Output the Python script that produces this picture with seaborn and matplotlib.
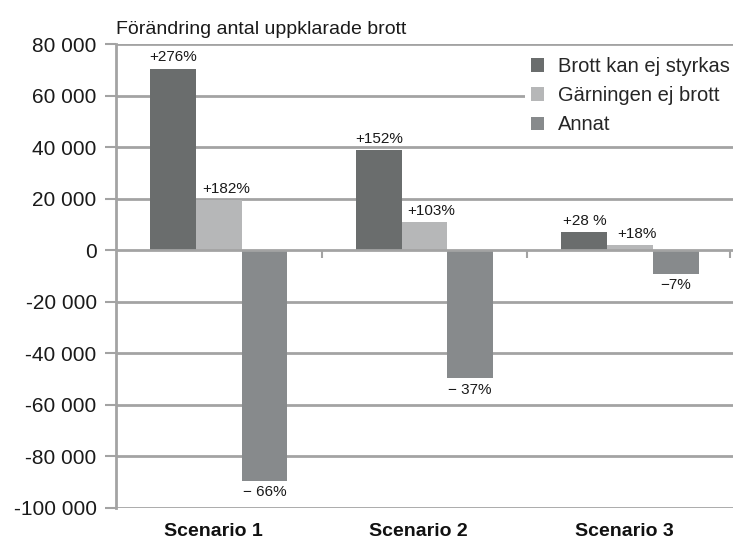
import matplotlib
matplotlib.use("Agg")
import matplotlib.pyplot as plt
import matplotlib.transforms as mtransforms
import seaborn as sns
import pandas as pd

scenarios = ["Scenario 1", "Scenario 2", "Scenario 3"]
categories = ["Brott kan ej styrkas", "Gärningen ej brott", "Annat"]
brott_kan_ej_styrkas = [70500, 38800, 7100]
garningen_ej_brott = [19400, 10900, 1900]
annat = [-89600, -49800, -9200]
pct_brott = ["+276%", "+152%", "+28 %"]
pct_garning = ["+182%", "+103%", "+18%"]
pct_annat = ["\u2212 66%", "\u2212 37%", "\u22127%"]
y_ticks = [80000, 60000, 40000, 20000, 0, -20000, -40000, -60000, -80000, -100000]
y_tick_labels = ["80 000", "60 000", "40 000", "20 000", "0", "-20 000",
                 "-40 000", "-60 000", "-80 000", "-100 000"]
colors = ["#6a6d6d", "#b6b7b8", "#878a8c"]
grid_color = "#a3a3a3"
text_color = "#1a1a1a"

rows = []
for series_name, values in zip(categories, [brott_kan_ej_styrkas, garningen_ej_brott, annat]):
    for sc, v in zip(scenarios, values):
        rows.append({"scenario": sc, "kategori": series_name, "antal": v})
df = pd.DataFrame(rows)

sns.set_theme(style="white")
plt.rcParams["font.family"] = ["Liberation Sans", "DejaVu Sans"]

fig = plt.figure(figsize=(7.35, 5.39), dpi=100)
ax = fig.add_axes([0.158, 0.058, 0.839, 0.86])

sns.barplot(data=df, x="scenario", y="antal", hue="kategori", order=scenarios,
            hue_order=categories, palette=colors, saturation=1, width=0.667,
            ax=ax, zorder=3, linewidth=0)

ax.set_ylim(-100000, 80000)
ax.set_xlim(-0.5, 2.5)
ax.set_yticks(y_ticks)
ax.set_yticklabels(y_tick_labels, fontsize=15, color=text_color)
ax.set_xticks([])
ax.set_xlabel("")
ax.set_ylabel("")

for t in y_ticks:
    ax.axhline(t, color=grid_color, lw=2, zorder=1 if t != 0 else 4)
ax.tick_params(axis="y", which="major", left=True, length=8, width=1.5,
               color=grid_color, pad=6)

for side in ["top", "right", "bottom"]:
    ax.spines[side].set_visible(False)
ax.spines["left"].set_color(grid_color)
ax.spines["left"].set_linewidth(2)

# short separators hanging below the zero line between scenarios
ax.vlines([0.5, 1.5, 2.485], -3200, 0, color=grid_color, lw=1.5, zorder=4)

labels = [pct_brott, pct_garning, pct_annat]
shifts = [0, 5, 0]
for container, labs, dx in zip(ax.containers, labels, shifts):
    texts = ax.bar_label(container, labels=labs, padding=3, fontsize=11, color=text_color)
    for t in texts:
        x0, y0 = t.xyann
        t.xyann = (x0 + dx, y0)

xform = mtransforms.blended_transform_factory(ax.transData, ax.transAxes) + \
    mtransforms.ScaledTranslation(-6 / 100, 0, fig.dpi_scale_trans)
for i, sc in enumerate(scenarios):
    ax.text(i, -0.061, sc, transform=xform, ha="center", va="baseline",
            fontsize=14, fontweight="bold", color="#111111")

ax.text(0.0, 1.014, "Förändring antal uppklarade brott", transform=ax.transAxes,
        ha="left", va="bottom", fontsize=14, color=text_color)

leg = ax.legend(loc="upper right", bbox_to_anchor=(1.005, 0.985), frameon=True,
                facecolor="white", edgecolor="none", framealpha=1, fontsize=14.5,
                handlelength=0.65, handleheight=0.65, handletextpad=0.7,
                labelspacing=0.5, borderpad=0.3, borderaxespad=0)
leg.set_zorder(5)

fig.savefig("out.png", dpi=100)
